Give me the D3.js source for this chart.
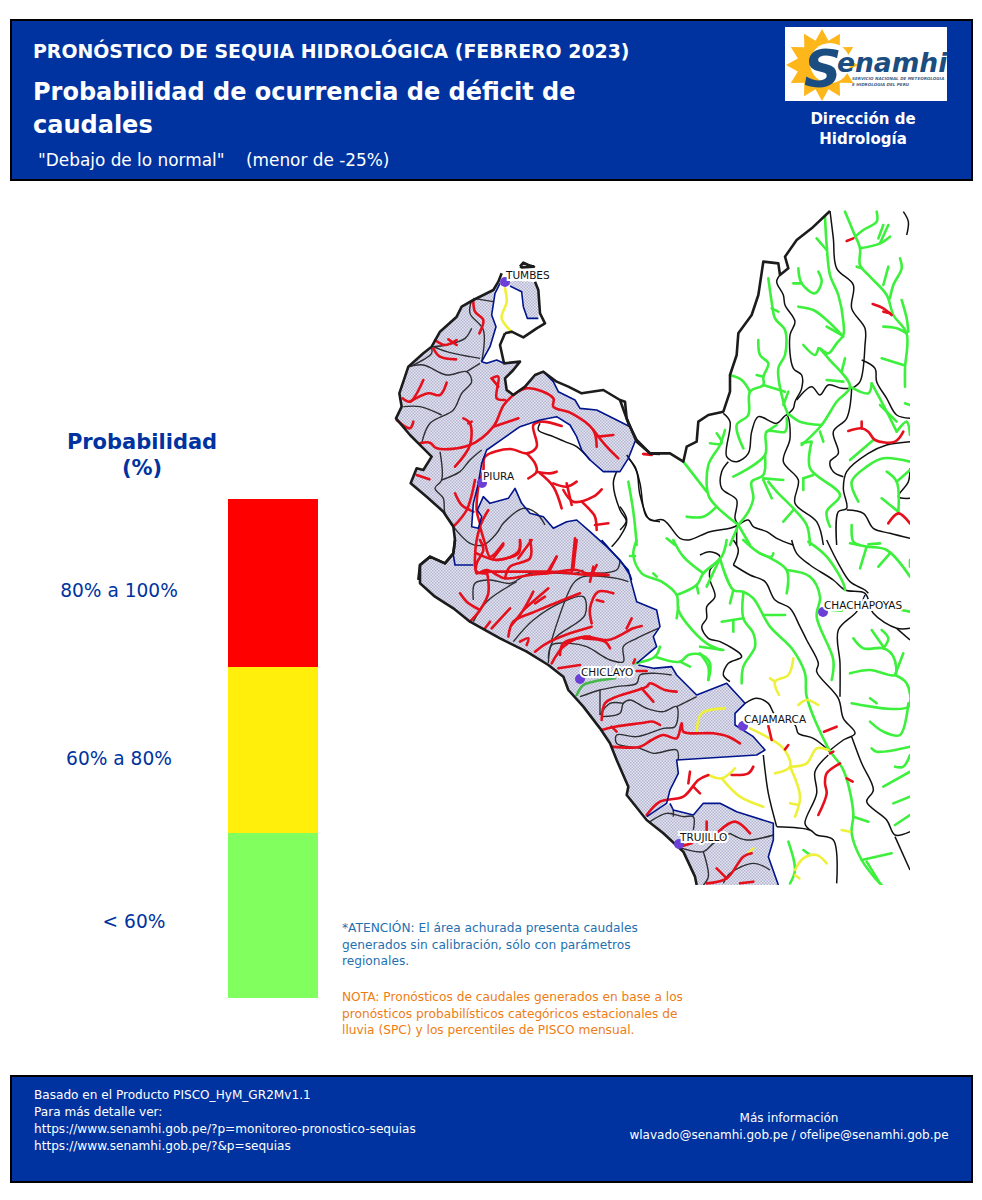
<!DOCTYPE html>
<html>
<head>
<meta charset="utf-8">
<script src="https://cdnjs.cloudflare.com/ajax/libs/d3/7.8.5/d3.min.js"></script>
<style>
body { margin: 0; background: #fff; }
text { font-family: "DejaVu Sans", Verdana, sans-serif; white-space: pre; }
.gray { fill: none; stroke: #2e2e33; stroke-width: 1.4; stroke-linejoin: round; }
.black { fill: none; stroke: #111; stroke-width: 1.5; stroke-linejoin: round; }
.coast { fill: none; stroke: #1c1c1c; stroke-width: 2.6; stroke-linejoin: round; }
.navy { fill: none; stroke: #00148c; stroke-width: 1.6; stroke-linejoin: round; }
.red { fill: none; stroke: #e6101c; stroke-width: 2.6; stroke-linejoin: round; stroke-linecap: round; }
.green { fill: none; stroke: #3cf03c; stroke-width: 2.6; stroke-linejoin: round; stroke-linecap: round; }
.dkgreen { fill: none; stroke: #45b84a; stroke-width: 2.6; stroke-linecap: round; }
.yellow { fill: none; stroke: #eef03a; stroke-width: 2.6; stroke-linejoin: round; stroke-linecap: round; }
</style>
</head>
<body>
<script>
// legend
var classes = ["80% a 100%", "60% a 80%", "< 60%"];
var classColors = ["#ff0000", "#ffef0a", "#80ff5e"];

// header and footer text
var titleTop = "PRONÓSTICO DE SEQUIA HIDROLÓGICA (FEBRERO 2023)";
var titleMain = ["Probabilidad de ocurrencia de déficit de", "caudales"];
var titleSub = "\"Debajo de lo normal\"    (menor de -25%)";
var unitLines = ["Dirección de", "Hidrología"];
var noteBlue = ["*ATENCIÓN: El área achurada presenta caudales", "generados sin calibración, sólo con parámetros", "regionales."];
var noteOrange = ["NOTA: Pronósticos de caudales generados en base a los", "pronósticos probabilísticos categóricos estacionales de", "lluvia (SPC) y los percentiles de PISCO mensual."];
var footLeft = ["Basado en el Producto PISCO_HyM_GR2Mv1.1", "Para más detalle ver:", "https://www.senamhi.gob.pe/?p=monitoreo-pronostico-sequias", "https://www.senamhi.gob.pe/?&p=sequias"];
var footRight = ["Más información", "wlavado@senamhi.gob.pe / ofelipe@senamhi.gob.pe"];

// cities
var cityNames = ["TUMBES", "PIURA", "CHICLAYO", "CAJAMARCA", "CHACHAPOYAS", "TRUJILLO"];
var cityX = [505, 482, 580, 743, 823, 679];
var cityY = [282, 483, 679, 726, 612, 844];

// ---- north sheet (traced, 810 x 990 units) ----
var northHatch = [
 [[335,70],[325,95],[310,120],[250,150],[215,170],[200,200],[150,245],[125,290],[100,310],[55,350],[45,380],[28,430],[35,470],[18,505],[60,555],[95,590],[125,620],[100,660],[80,655],[62,700],[110,740],[160,785],[190,830],[195,870],[190,910],[165,940],[120,920],[90,945],[85,990],[725,990],[720,975],[690,930],[650,890],[600,845],[560,810],[530,815],[490,835],[460,800],[420,790],[395,760],[375,715],[355,745],[300,760],[280,740],[262,780],[275,800],[265,835],[245,830],[250,760],[265,700],[275,640],[290,600],[340,565],[390,530],[450,510],[500,500],[540,525],[560,560],[575,600],[600,630],[640,665],[690,665],[715,625],[737,570],[720,530],[680,510],[620,480],[570,475],[555,450],[505,425],[490,395],[460,365],[435,375],[405,410],[370,435],[350,420],[345,385],[370,360],[390,335],[342,340],[320,330],[290,340],[275,335],[300,290],[318,230],[305,195],[315,130],[330,100]],
 [[345,100],[380,115],[400,130],[400,170],[412,205],[445,205],[447,150],[438,100],[425,95],[380,90]]
];
var northCoast = [
 [[335,70],[325,95],[310,120],[250,150],[215,170],[200,200],[150,245],[125,290],[100,310],[55,350],[45,380],[28,430],[35,470],[18,505],[60,555],[95,590],[125,620],[100,660],[80,655],[62,700],[110,740],[160,785],[190,830],[195,870],[190,910],[165,940],[120,920],[90,945],[85,990]],
 [[345,250],[330,285],[342,340],[390,335],[370,360],[345,385],[350,420],[370,435],[405,410],[435,375],[460,365],[500,395],[535,410],[575,430],[640,420],[690,450],[715,520],[740,570],[780,610],[810,612]],
 [[345,250],[365,245],[400,262],[440,235],[465,220],[450,190],[445,120],[435,95]],
 [[390,50],[400,38],[415,45],[432,50],[395,52],[390,50]]
];
var northNavy = [
 [[330,100],[315,130],[305,195],[318,230],[300,290],[275,335],[290,340],[320,330],[342,340]],
 [[360,108],[395,125],[400,170],[412,205],[445,205]],
 [[460,365],[490,395],[505,425],[555,450],[570,475],[620,480],[680,510],[720,530],[737,570],[715,625],[690,665],[640,665],[600,630],[575,600],[560,560],[540,525],[500,500],[450,510],[390,530],[340,565],[290,600],[275,640],[265,700],[250,760],[245,830],[265,835],[275,800],[262,780],[280,740],[300,760],[355,745],[375,715],[395,760],[420,790],[460,800],[490,835],[530,815],[560,810],[600,845],[650,890],[690,930],[720,975],[725,990]],
 [[190,915],[195,945],[250,945]]
];
var northGray = [
 [[245,150],[240,190],[280,240],[275,335]],
 [[250,145],[310,155]],
 [[130,290],[170,305],[240,320],[270,325]],
 [[125,295],[125,310],[60,350]],
 [[55,350],[100,345],[170,375],[230,365],[245,395],[215,430],[190,480],[120,520],[95,580]],
 [[230,365],[270,340]],
 [[40,470],[90,470],[155,495]],
 [[245,235],[225,265],[170,285],[130,290]],
 [[150,605],[155,690],[135,715],[160,745],[165,790],[190,825]],
 [[155,690],[210,665],[240,630],[275,600]],
 [[190,830],[240,880],[280,885],[320,850],[340,820],[400,775],[440,790],[465,825]]
];
var northBlack = [
 [[450,520],[445,540],[490,560],[525,575],[560,590],[600,630]],
 [[680,665],[670,700],[690,780],[710,815],[690,860],[665,890]],
 [[715,625],[735,650],[750,700],[770,800],[810,815]]
];
var northRed = [
 [[250,155],[255,185],[280,210],[268,250]],
 [[135,270],[165,285],[200,270]],
 [[175,268],[200,285]],
 [[130,295],[150,320],[198,328]],
 [[38,445],[60,455],[100,390]],
 [[60,455],[115,430],[150,435],[170,398]],
 [[20,510],[60,535],[70,515]],
 [[90,580],[120,578],[140,595],[240,585],[310,530],[345,460],[410,415],[490,445],[490,470],[545,490],[610,540],[620,590]],
 [[610,540],[650,590],[685,625]],
 [[625,560],[670,555]],
 [[310,530],[385,505]],
 [[195,650],[240,585],[240,520],[220,505]],
 [[245,515],[235,520]],
 [[305,385],[325,380],[320,445],[345,450]],
 [[305,385],[325,410]],
 [[80,675],[118,688]],
 [[265,700],[280,660],[285,620],[360,597],[410,610],[440,590],[430,525],[455,515],[515,528]],
 [[410,610],[435,640],[440,665],[415,685]],
 [[440,665],[480,670],[500,665]],
 [[450,670],[490,710],[515,775]],
 [[490,700],[530,710],[560,695]],
 [[530,700],[545,765]],
 [[520,720],[550,755],[610,740],[635,718]],
 [[575,755],[600,780],[615,800],[620,840]],
 [[615,825],[655,820]],
 [[265,710],[260,780],[270,820]],
 [[195,730],[215,765],[250,785]],
 [[255,690],[230,780],[190,830]],
 [[295,780],[270,830],[255,920],[260,965],[290,970]],
 [[270,830],[285,880],[300,920],[340,880]],
 [[320,930],[385,910],[390,870]],
 [[385,925],[425,870]],
 [[280,965],[435,965],[480,965],[600,975],[655,975]],
 [[480,960],[500,920]],
 [[545,965],[555,865]],
 [[605,975],[620,945]],
 [[760,612],[785,612]]
];
var northYellow = [[[345,115],[350,155],[335,205],[365,245]]];

// ---- south sheet (1080 x 1050 units) ----
var southHatch = [
 [[0,75],[0,130],[45,170],[100,205],[150,245],[240,295],[320,335],[385,375],[430,410],[445,450],[490,500],[540,565],[570,610],[590,660],[625,740],[620,765],[680,830],[740,790],[750,750],[775,700],[770,660],[1010,645],[1035,630],[1000,590],[945,555],[945,520],[975,490],[920,430],[830,465],[770,405],[755,380],[700,385],[655,375],[650,370],[710,320],[700,290],[720,260],[710,210],[650,185],[635,130],[625,90],[580,40],[545,0],[105,0],[100,40],[75,70],[30,50]],
 [[680,830],[750,790],[760,810],[820,825],[850,790],[900,790],[950,815],[1060,850],[1060,900],[1045,950],[1075,1035],[830,1035],[825,1010],[790,935],[730,880]]
];
var southCoast = [
 [[105,0],[100,40],[75,70],[30,50],[0,75],[0,130],[45,170],[100,205],[150,245],[240,295],[320,335],[385,375],[430,410],[445,450],[490,500],[540,565],[570,610],[590,660],[625,740],[620,765],[680,840],[730,880],[790,935],[825,1010],[830,1035]]
];
var southNavy = [
 [[545,0],[580,40],[625,90],[635,130],[650,185],[710,210],[720,260],[700,290],[710,320],[650,370]],
 [[655,375],[700,385],[755,380],[770,405],[830,465],[920,430],[975,490],[945,520],[945,555],[1000,590],[1035,630],[1010,645],[770,660],[775,700],[750,750],[740,790],[680,830]],
 [[750,790],[760,810],[820,825],[850,790],[900,790],[950,815],[1060,850],[1060,900],[1045,950],[1075,1035]]
];
var southGray = [
 [[160,180],[165,130],[210,120],[270,130],[330,100],[465,100],[490,90]],
 [[160,245],[200,185],[290,125]],
 [[280,305],[340,240],[430,185],[490,170],[495,225],[400,300],[385,370]],
 [[395,300],[460,130],[490,110],[590,115],[625,125]],
 [[385,355],[395,315],[450,310],[500,320],[570,360],[610,365],[610,320],[650,295],[715,265]],
 [[600,60],[590,90],[490,100]],
 [[480,470],[540,450],[590,440],[650,430],[660,405],[710,400],[755,405]],
 [[540,450],[540,525]],
 [[545,530],[600,520],[610,490],[630,480],[680,505],[730,515],[770,500],[765,560],[730,565],[650,590],[590,585],[590,610],[660,625],[700,640],[770,630],[775,660]],
 [[770,500],[830,470]],
 [[540,525],[570,490],[610,490]],
 [[690,845],[740,820],[790,830],[820,830],[820,870]],
 [[930,880],[980,900],[1060,885]],
 [[770,920],[850,935],[880,910],[930,880]],
 [[850,935],[865,1010],[850,1035]],
 [[910,1030],[930,1000],[1000,970],[1050,990]],
 [[760,810],[760,830]]
];
var southRed = [
 [[180,0],[190,30],[170,70],[170,100],[200,90],[255,115],[330,105],[380,100],[470,90],[500,100],[520,100],[565,105]],
 [[170,40],[235,60],[295,35],[300,5]],
 [[220,55],[250,15]],
 [[200,90],[205,160],[180,210],[150,245]],
 [[120,160],[140,185],[180,210]],
 [[255,115],[270,80],[330,55],[330,0]],
 [[380,100],[410,50]],
 [[460,85],[465,40],[470,0]],
 [[510,125],[520,80]],
 [[215,265],[270,205]],
 [[195,265],[210,245]],
 [[265,290],[280,245],[345,215],[480,160]],
 [[275,255],[310,210],[340,155]],
 [[310,210],[385,145]],
 [[345,190],[375,170]],
 [[300,305],[325,295],[320,315]],
 [[345,335],[380,310],[450,280],[515,260]],
 [[515,250],[510,205],[535,155],[580,160]],
 [[530,180],[550,185]],
 [[395,370],[430,320],[490,290],[565,300],[640,265],[665,258]],
 [[620,265],[635,235]],
 [[490,295],[555,305],[570,325]],
 [[420,345],[430,310],[510,290]],
 [[415,385],[480,375]],
 [[650,393],[680,393]],
 [[640,370],[645,358]],
 [[545,540],[555,490],[590,470],[680,440],[690,430],[735,450],[770,455]],
 [[665,445],[700,485]],
 [[545,570],[585,560],[660,550],[700,545],[720,555]],
 [[575,560],[590,575]],
 [[575,620],[660,620],[695,600],[730,585],[770,595],[785,550],[790,575],[880,580],[925,590],[960,610]],
 [[680,825],[720,785],[790,770],[835,720],[865,705]],
 [[805,730],[810,695]],
 [[820,740],[840,760]],
 [[935,705],[985,700],[1000,680]],
 [[860,845],[860,870]],
 [[895,875],[945,845],[990,880]],
 [[780,920],[815,910]],
 [[860,1030],[920,1015],[970,950],[995,940]],
 [[890,985],[920,1015]],
 [[960,1030],[1000,1025]]
];
var southYellow = [
 [[830,575],[845,520],[915,505]],
 [[865,705],[905,715],[945,685]],
 [[905,715],[960,770],[1030,800]],
 [[985,940],[1000,925]]
];
var southGreen = [
 [[650,0],[640,45],[665,100],[725,125],[770,165],[775,210],[800,250],[860,310],[905,330]],
 [[630,48],[645,48]],
 [[700,100],[710,110]],
 [[770,165],[830,135],[850,100],[905,50],[920,0]],
 [[830,135],[835,160]],
 [[760,0],[790,50],[850,100]],
 [[775,200],[770,235]],
 [[645,370],[705,350],[720,320]],
 [[705,350],[780,365],[805,345],[845,345],[870,370],[865,420]],
 [[780,365],[810,380]]
];
var southDkGreen = [[[470,465],[490,435],[520,425],[585,415]]];

// ---- east sheet (885 x 1020 units) ----
var eastCoast = [
 [[0,585],[15,590],[20,640],[50,710],[90,745],[150,745],[190,770],[200,725],[230,710],[235,650],[265,630],[310,620],[330,560],[330,510],[350,450],[355,385],[395,330],[415,270],[430,170],[475,175],[480,210],[505,190],[495,155],[530,105],[575,70],[630,18]]
];
var eastBlack = [
 [[630,18],[640,100],[650,190],[700,240],[695,310],[735,370],[735,420],[720,530],[695,550]],
 [[480,210],[470,230],[490,270],[495,300],[525,350],[510,390],[520,490],[545,510],[545,550],[525,590],[520,610],[500,630]],
 [[310,625],[330,650],[320,755],[350,770],[385,745],[395,680],[415,635],[470,655],[500,630],[510,700],[490,770],[535,825],[525,895],[590,950],[610,1020]],
 [[325,770],[305,800],[305,850],[350,885],[345,940],[355,960]],
 [[355,960],[385,945],[400,965],[440,980],[470,1000],[520,1020]],
 [[20,750],[50,800],[60,870],[90,945],[130,945],[180,1000],[205,1005],[270,980],[330,970],[355,960]],
 [[695,550],[680,640],[640,680],[655,745],[630,770],[640,800],[670,815]],
 [[530,585],[575,545],[600,570],[625,540],[665,550],[695,550]],
 [[725,465],[765,490],[770,530],[800,580],[830,630],[870,640]],
 [[870,710],[800,720],[745,745],[680,800],[670,850],[680,910],[655,920],[650,1020]],
 [[680,915],[730,925],[760,970],[810,985],[870,1000]],
 [[850,20],[865,50],[860,90]],
 [[870,790],[865,830],[835,875],[870,880]],
 [[0,905],[20,945],[0,975]],
 [[350,960],[350,1020]]
];
var eastGreen = [
 [[615,35],[620,120],[630,210],[655,270],[670,350],[670,390],[650,415],[625,445],[600,430],[625,460],[690,545],[650,590],[605,660],[545,720]],
 [[590,100],[620,135]],
 [[535,190],[545,235],[585,265],[605,230],[595,200]],
 [[520,235],[545,235]],
 [[535,305],[580,315],[620,345],[670,395]],
 [[620,365],[665,390]],
 [[550,420],[585,450],[595,430]],
 [[675,460],[665,500]],
 [[620,525],[670,530]],
 [[690,545],[745,565],[755,535]],
 [[755,535],[790,600],[830,680]],
 [[830,680],[860,650],[870,690]],
 [[780,600],[830,650]],
 [[605,660],[540,650],[510,630]],
 [[445,220],[455,290],[465,340],[495,375],[495,450],[475,490],[490,590],[505,630]],
 [[455,310],[475,320]],
 [[415,405],[420,450],[445,475],[430,515],[430,540],[390,560],[385,630],[350,660],[370,730]],
 [[410,510],[430,515]],
 [[330,510],[365,525],[390,560]],
 [[430,540],[495,560]],
 [[505,560],[490,600]],
 [[500,640],[495,680],[440,680],[435,750],[340,815]],
 [[440,680],[470,660]],
 [[435,750],[430,810],[395,830],[400,880],[385,920],[355,960]],
 [[430,820],[490,825]],
 [[430,825],[455,880]],
 [[445,830],[470,860],[520,910],[560,960],[570,1020]],
 [[520,915],[490,950]],
 [[355,960],[330,1020]],
 [[355,960],[390,1020]],
 [[355,960],[290,905],[265,870],[265,780],[300,720],[315,675]],
 [[270,715],[305,715],[290,685]],
 [[290,905],[250,935],[200,935]],
 [[190,770],[260,860]],
 [[575,710],[570,790],[660,870],[620,920],[630,965]],
 [[570,710],[545,715]],
 [[600,680],[610,710]],
 [[550,820],[580,810]],
 [[550,820],[550,855]],
 [[25,830],[40,920],[50,1020]],
 [[140,1000],[165,1020]],
 [[695,960],[700,1010],[720,1020]],
 [[745,1018],[780,1015]],
 [[675,20],[700,80],[720,130],[720,180],[750,215],[800,270],[820,330],[860,385],[855,490],[855,545]],
 [[770,20],[770,50],[730,75],[705,95]],
 [[720,130],[780,115],[810,95]],
 [[780,115],[805,60]],
 [[775,100],[790,60]],
 [[805,185],[790,240]],
 [[840,160],[845,190],[820,240],[810,280]],
 [[710,185],[725,190]],
 [[790,365],[830,370],[860,385]],
 [[845,285],[860,340],[865,380]],
 [[785,460],[850,480]],
 [[855,595],[870,600]],
 [[760,705],[690,765]],
 [[870,770],[790,760],[740,785],[695,830],[715,890]],
 [[800,800],[830,830],[835,920]],
 [[870,795],[830,830]],
 [[785,880],[835,920]]
];
var eastRed = [
 [[758,297],[790,310],[815,330]],
 [[790,320],[810,325]],
 [[680,108],[700,100]],
 [[685,678],[725,670],[745,680],[765,705],[825,710],[850,680]],
 [[725,650],[725,670]],
 [[805,955],[835,925],[870,955]],
 [[70,747],[95,750]]
];

// ---- central sheet (645 x 1050 units) ----
var centralBlack = [
 [[0,45],[30,35],[60,50],[30,90],[30,120],[45,170],[20,200],[20,235],[5,260],[25,295],[60,305],[125,350],[85,370],[70,405],[90,425]],
 [[100,0],[115,30],[100,75]],
 [[100,75],[150,105],[195,125],[225,180],[270,205],[300,260],[320,300],[355,370],[350,395],[415,475],[430,535],[465,580],[430,600],[385,635]],
 [[135,490],[170,475],[205,490],[225,525],[285,555],[295,580],[340,595],[385,630]],
 [[190,645],[195,690],[205,760],[230,860]],
 [[230,860],[330,870],[350,885],[400,900],[410,1030]],
 [[385,645],[345,695],[350,760],[315,850],[330,870]],
 [[275,0],[290,40],[330,75],[400,120],[435,150],[495,160],[520,220],[590,265],[630,265]],
 [[380,0],[415,70],[450,125],[495,150],[505,160]],
 [[495,165],[470,215],[415,270],[420,370],[420,470]],
 [[590,265],[630,300]],
 [[455,590],[485,670],[520,750],[500,785],[560,840],[585,885],[630,875]],
 [[585,890],[630,990]]
];
var centralGreen = [
 [[130,0],[180,40],[215,50],[220,40]],
 [[180,40],[260,90],[260,160]],
 [[260,90],[330,110],[360,170],[350,230],[400,360],[395,420]],
 [[325,5],[380,50],[430,130],[435,150]],
 [[450,10],[500,20],[560,30],[630,110]],
 [[500,20],[480,85]],
 [[570,40],[535,80]],
 [[60,55],[100,150],[130,155],[160,175],[210,260],[275,325],[315,400],[320,470],[385,625],[430,690],[460,820],[455,880],[485,960],[530,1020],[545,1035]],
 [[100,150],[90,190]],
 [[130,160],[130,235],[160,280],[165,320],[130,380],[125,430]],
 [[130,235],[65,245]],
 [[100,240],[100,275]],
 [[190,225],[255,225]],
 [[0,320],[70,330]],
 [[0,340],[25,380],[25,420]],
 [[60,55],[20,140]],
 [[395,210],[425,212]],
 [[605,210],[630,215]],
 [[630,60],[630,80]],
 [[460,295],[490,325],[550,325],[580,350],[585,405],[510,390],[450,400]],
 [[515,270],[550,320]],
 [[545,270],[565,295],[550,325]],
 [[585,405],[610,340]],
 [[585,405],[620,430],[625,500],[455,490]],
 [[510,475],[530,490]],
 [[625,490],[600,585],[550,575],[510,545]],
 [[515,625],[530,635],[630,620]],
 [[630,645],[610,680],[585,680]],
 [[550,740],[630,695]],
 [[580,790],[630,770]],
 [[585,855],[630,825]],
 [[460,830],[505,845]],
 [[485,960],[575,940]],
 [[500,965],[540,1030]],
 [[265,905],[285,990],[270,1030]],
 [[310,930],[330,945]]
];
var centralYellow = [
 [[280,355],[265,405],[225,425],[237,465]],
 [[225,425],[210,415]],
 [[295,495],[320,480],[355,495]],
 [[150,565],[250,625],[270,680],[225,700]],
 [[270,680],[300,770],[285,830]],
 [[270,790],[295,795]],
 [[270,680],[320,670],[350,625],[385,630]],
 [[425,870],[450,875]],
 [[285,990],[310,955],[350,945],[380,970]],
 [[285,1005],[298,1015]]
];
var centralRed = [
 [[205,558],[215,600]],
 [[255,628],[265,615]],
 [[372,575],[410,560]],
 [[390,640],[400,635]],
 [[420,670],[380,700],[375,730],[380,760],[355,825]],
 [[440,715],[458,725]]
];

var width = 982, height = 1200;
var navy = "#0033a0";

var svg = d3.select("body").append("svg")
    .attr("width", width)
    .attr("height", height)
    .style("display", "block");

// hatch of the uncalibrated area
var defs = svg.append("defs");
var pat = defs.append("pattern")
    .attr("id", "hatch")
    .attr("patternUnits", "userSpaceOnUse")
    .attr("width", 3).attr("height", 3);
pat.append("rect").attr("width", 3).attr("height", 3).attr("fill", "#e4e5f0");
pat.append("rect").attr("width", 1.5).attr("height", 1.5).attr("fill", "#b4b6d2");
pat.append("rect").attr("x", 1.5).attr("y", 1.5).attr("width", 1.5).attr("height", 1.5).attr("fill", "#b4b6d2");

defs.append("clipPath").attr("id", "mapClip").append("rect")
    .attr("x", 390).attr("y", 210).attr("width", 520).attr("height", 675);
defs.append("clipPath").attr("id", "legClip").append("rect")
    .attr("x", 40).attr("y", 420).attr("width", 220).attr("height", 58);

function panel(y, h) {
  svg.append("rect")
      .attr("x", 11).attr("y", y)
      .attr("width", 961).attr("height", h)
      .attr("fill", navy)
      .attr("stroke", "#000").attr("stroke-width", 2);
}

function lines(list, x, baselines, size, color, anchor, weight) {
  svg.selectAll(null).data(list).enter().append("text")
      .attr("x", x)
      .attr("y", function(d, i) { return baselines[i]; })
      .attr("fill", color)
      .attr("font-size", size)
      .attr("font-weight", weight || "normal")
      .attr("text-anchor", anchor || "start")
      .text(function(d) { return d; });
}

// header
panel(20, 160);
lines([titleTop], 33, [58], 18.9, "#fff", "start", "bold");
lines(titleMain, 33, [100, 133], 24, "#fff", "start", "bold");
lines([titleSub], 38, [166], 16.9, "#fff");
lines(unitLines, 863, [124, 144], 15, "#fff", "middle", "bold");

// logo
var logo = svg.append("g");
logo.append("rect").attr("x", 785).attr("y", 27).attr("width", 162).attr("height", 74).attr("fill", "#fff");
var sunPts = d3.range(24).map(function(i) {
  return [i * Math.PI / 12, i % 2 ? 25 : 36];
});
logo.append("path")
    .attr("transform", "translate(822,65)")
    .attr("fill", "#fdb71a")
    .attr("d", d3.lineRadial().curve(d3.curveLinearClosed)(sunPts));
logo.append("circle").attr("cx", 830).attr("cy", 63).attr("r", 20).attr("fill", "#fff");
logo.append("text").attr("x", 804).attr("y", 87).attr("font-size", 52).attr("font-weight", "bold")
    .attr("font-style", "italic").attr("fill", "#1b4d80").text("S");
logo.append("text").attr("x", 837).attr("y", 72).attr("font-size", 26.5).attr("font-weight", "bold")
    .attr("font-style", "italic").attr("fill", "#1b4d80").text("enamhi");
logo.append("text").attr("x", 852).attr("y", 80).attr("font-size", 4.1).attr("font-weight", "bold")
    .attr("font-style", "italic").attr("fill", "#3c5f86").text("SERVICIO NACIONAL DE METEOROLOGIA");
logo.append("text").attr("x", 852).attr("y", 85.5).attr("font-size", 4.1).attr("font-weight", "bold")
    .attr("font-style", "italic").attr("fill", "#3c5f86").text("E HIDROLOGIA DEL PERU");

// legend
var legendY = d3.scaleLinear().domain([0, 1, 2, 3]).range([499, 667, 833, 998]);
var legendColor = d3.scaleOrdinal().domain(classes).range(classColors);
var labelX = [119, 119, 134];
var labelY = [597, 765, 928];

svg.selectAll(".leg").data(classes).enter().append("rect")
    .attr("class", "leg")
    .attr("x", 228)
    .attr("y", function(d, i) { return legendY(i); })
    .attr("width", 90)
    .attr("height", function(d, i) { return legendY(i + 1) - legendY(i); })
    .attr("fill", function(d) { return legendColor(d); });

svg.selectAll(".legLab").data(classes).enter().append("text")
    .attr("class", "legLab")
    .attr("x", function(d, i) { return labelX[i]; })
    .attr("y", function(d, i) { return labelY[i]; })
    .attr("text-anchor", "middle")
    .attr("font-size", 18.6)
    .attr("fill", navy)
    .text(function(d) { return d; });

var legTitle = svg.append("g").attr("clip-path", "url(#legClip)");
["Probabilidad", "(%)"].forEach(function(t, i) {
  legTitle.append("text")
      .attr("x", 142).attr("y", 449 + i * 26)
      .attr("text-anchor", "middle")
      .attr("font-size", 21).attr("font-weight", "bold")
      .attr("fill", navy)
      .text(t);
});

// map
var map = svg.append("g").attr("clip-path", "url(#mapClip)");

function sheet(x0, y0, w, h) {
  return {
    x: d3.scaleLinear().domain([0, w]).range([x0, x0 + w / 3]),
    y: d3.scaleLinear().domain([0, h]).range([y0, y0 + h / 3])
  };
}
var north = sheet(390, 250, 810, 990);
var south = sheet(420, 540, 1080, 1050);
var east = sheet(620, 205, 885, 1020);
var central = sheet(700, 540, 645, 1050);

function draw(list, s, cls, curve) {
  var path = d3.line()
      .x(function(d) { return s.x(d[0]); })
      .y(function(d) { return s.y(d[1]); })
      .curve(curve || d3.curveCatmullRom.alpha(0.5));
  return map.selectAll(null).data(list).enter().append("path")
      .attr("class", cls)
      .attr("d", path);
}

draw(northHatch, north, "h", d3.curveLinearClosed).attr("fill", "url(#hatch)");
draw(southHatch, south, "h", d3.curveLinearClosed).attr("fill", "url(#hatch)");

draw(northGray, north, "gray");
draw(southGray, south, "gray");
draw(northBlack, north, "black");
draw(eastBlack, east, "black");
draw(centralBlack, central, "black");

draw(eastGreen, east, "green");
draw(southGreen, south, "green");
draw(centralGreen, central, "green");
draw(southDkGreen, south, "dkgreen");
draw(northYellow, north, "yellow");
draw(southYellow, south, "yellow");
draw(centralYellow, central, "yellow");
draw(northRed, north, "red");
draw(southRed, south, "red");
draw(eastRed, east, "red");
draw(centralRed, central, "red");

draw(northNavy, north, "navy", d3.curveLinear);
draw(southNavy, south, "navy", d3.curveLinear);
draw(northCoast, north, "coast", d3.curveLinear);
draw(southCoast, south, "coast", d3.curveLinear);
draw(eastCoast, east, "coast", d3.curveLinear);

// cities
map.selectAll(".city").data(cityNames).enter().append("circle")
    .attr("class", "city")
    .attr("cx", function(d, i) { return cityX[i]; })
    .attr("cy", function(d, i) { return cityY[i]; })
    .attr("r", 5)
    .attr("fill", "#6c3fd6");

map.selectAll(".cityLab").data(cityNames).enter().append("text")
    .attr("class", "cityLab")
    .attr("x", function(d, i) { return cityX[i] + 1; })
    .attr("y", function(d, i) { return cityY[i] - 3; })
    .attr("font-size", 10.5)
    .attr("fill", "#111")
    .attr("stroke", "#fff").attr("stroke-width", 4)
    .attr("paint-order", "stroke")
    .text(function(d) { return d; });

// notes
lines(noteBlue, 342, [932, 949, 965], 12.2, "#1f70b0");
lines(noteOrange, 342, [1001, 1018, 1034], 12.2, "#ed7d12");

// footer
panel(1076, 106);
lines(footLeft, 34, [1099, 1116, 1133, 1150], 12.1, "#fff");
lines(footRight, 789, [1122, 1139], 12, "#fff", "middle");
</script>
</body>
</html>
